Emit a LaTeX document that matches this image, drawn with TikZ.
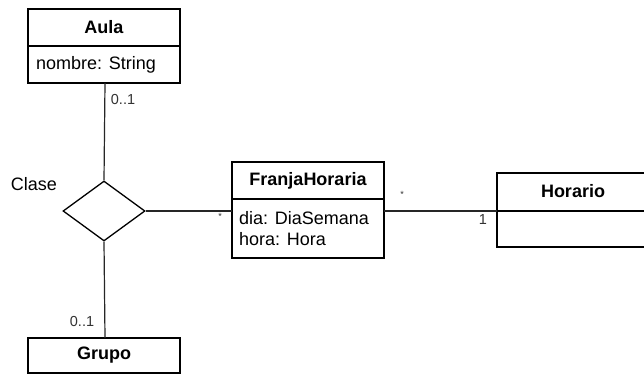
\documentclass[tikz,border=0pt]{standalone}
\usepackage{fontspec}
\setmainfont{Liberation Sans}
\usetikzlibrary{shapes.geometric}
\begin{document}
\begin{tikzpicture}[x=1pt,y=-1pt,
  box/.style={draw, line width=1.3pt},
  conn/.style={line width=1.2pt, draw=black!85},
  title/.style={font=\fontsize{18}{20}\selectfont\bfseries, inner sep=0pt},
  attr/.style={font=\fontsize{18}{21}\selectfont, inner sep=0pt, anchor=west, align=left},
  mult/.style={font=\fontsize{14.5}{16}\selectfont, inner sep=0pt, text=black!80},
  star/.style={font=\fontsize{9}{10}\selectfont, inner sep=0pt, text=black!80}]
\useasboundingbox (0,0) rectangle (644,377);
\clip (0,0) rectangle (644,377);
\fill[white] (0,0) rectangle (644,377);
% Aula
\draw[box] (28,9) rectangle (180,83);
\draw[box] (28,46) -- (180,46);
\node[title] (aulaT) at (104,27.5) {Aula};
\node[attr] (aulaA) at (36,64.5) {nombre: String};
\coordinate (aulaB) at (105,83);
% Diamond
\node[draw, line width=1.3pt, diamond, minimum width=82pt, minimum height=60pt, inner sep=0pt] (dia) at (104,211) {};
\node[font=\fontsize{18}{20}\selectfont, inner sep=0pt] (clase) at (34,184) {Clase};
% Grupo
\draw[box] (28,338) rectangle (180,373);
\node[title] (grupo) at (104,355.5) {Grupo};
\coordinate (grupoT) at (105,338);
% FranjaHoraria
\draw[box] (232,162) rectangle (384,258);
\draw[box] (232,199) -- (384,199);
\node[title] (fhT) at (308,181) {FranjaHoraria};
\node[attr] (fhA) at (239,228.5) {dia: DiaSemana\\hora: Hora};
\coordinate (fhL) at (232,211);
\coordinate (fhR) at (384,211);
% Horario
\draw[box] (497,173) rectangle (660,247);
\draw[box] (497,211) -- (660,211);
\node[title] (hor) at (573,191.5) {Horario};
\coordinate (horL) at (497,211);
% connectors
\draw[conn] (aulaB) -- (dia.north);
\draw[conn] (dia.south) -- (grupoT);
\draw[conn] (dia.east) -- (fhL);
\draw[conn] (fhR) -- (horL);
% multiplicities
\node[mult] (m1) at (123,100) {0..1};
\node[mult] (m2) at (82,322) {0..1};
\node[star] (s1) at (220,216) {*};
\node[star] (s2) at (402,194) {*};
\node[mult] (m3) at (483,220) {1};
\end{tikzpicture}
\end{document}
